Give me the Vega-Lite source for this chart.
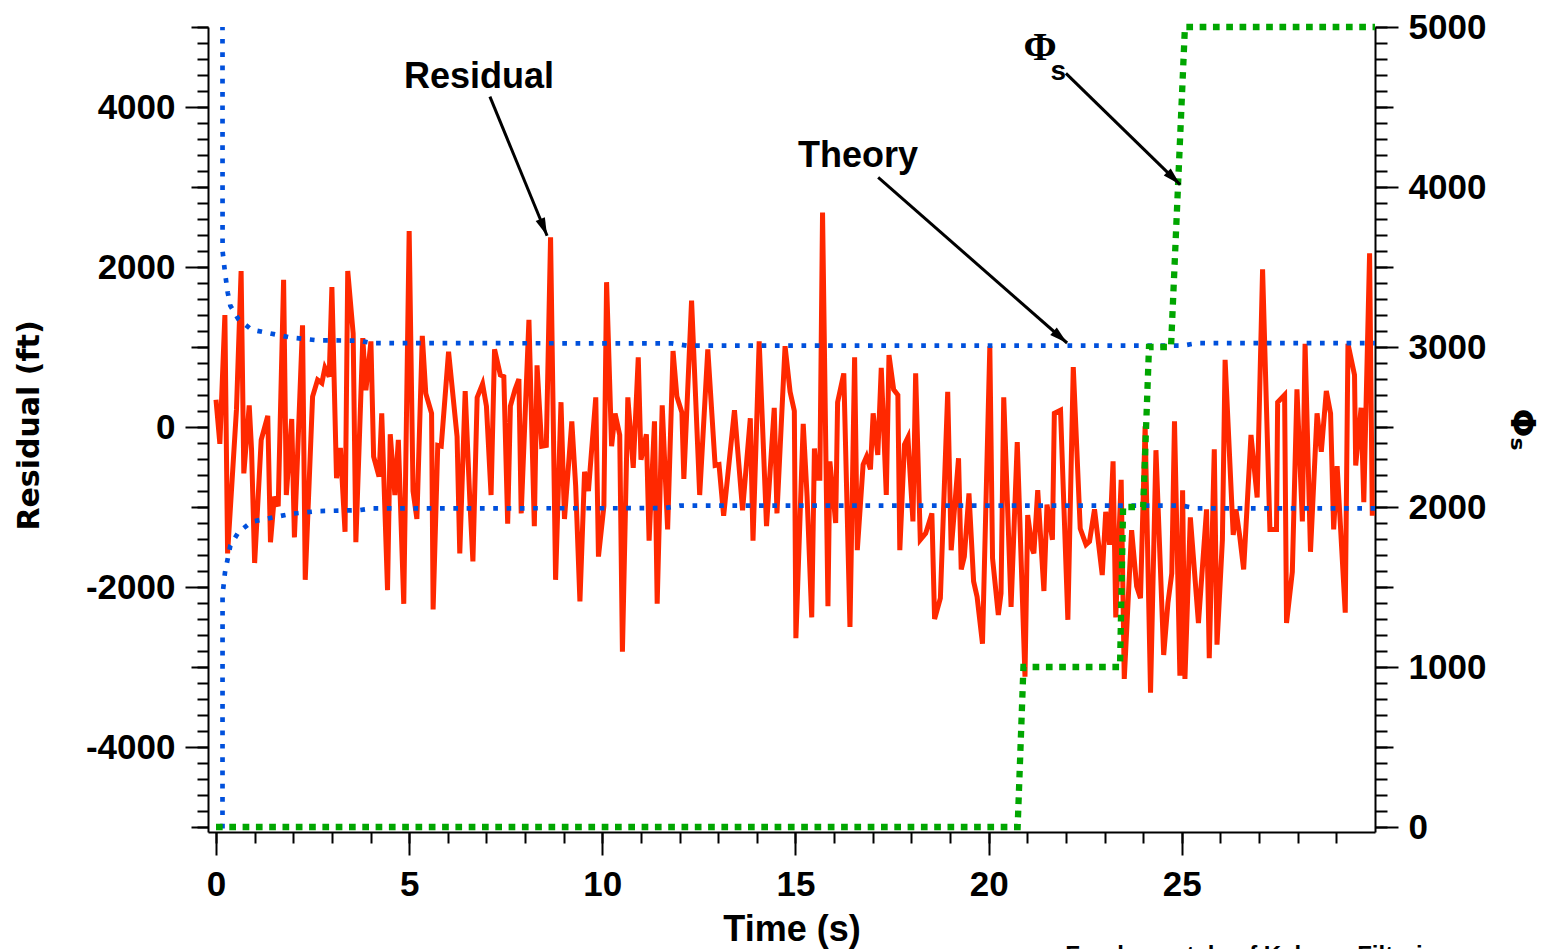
{
  "$schema": "https://vega.github.io/schema/vega-lite/v6.json",
  "width": 1167,
  "height": 805,
  "autosize": {"type": "none"},
  "padding": {"left": 208, "top": 27, "right": 172, "bottom": 117},
  "background": "white",
  "config": {
    "view": {"stroke": null},
    "axis": {
      "grid": false,
      "domainColor": "#000000",
      "domainWidth": 2,
      "tickColor": "#000000",
      "tickWidth": 2,
      "labelColor": "#000000",
      "labelFont": "Liberation Sans",
      "labelFontWeight": "bold",
      "labelFontSize": 35,
      "labelFlush": false,
      "labelOverlap": false,
      "labelPadding": 10,
      "titleColor": "#000000",
      "titleFont": "Liberation Sans",
      "titleFontWeight": "bold"
    }
  },
  "datasets": {
    "residual": [
      {"t": 0.00, "r": 340}, {"t": 0.10, "r": -210}, {"t": 0.23, "r": 1400}, {"t": 0.30, "r": -1580},
      {"t": 0.53, "r": 220}, {"t": 0.65, "r": 1950}, {"t": 0.72, "r": -580}, {"t": 0.86, "r": 270},
      {"t": 0.92, "r": -280}, {"t": 1.00, "r": -1700}, {"t": 1.17, "r": -160}, {"t": 1.34, "r": 140},
      {"t": 1.41, "r": -1440}, {"t": 1.51, "r": -870}, {"t": 1.61, "r": -990}, {"t": 1.75, "r": 1840},
      {"t": 1.82, "r": -850}, {"t": 1.96, "r": 100}, {"t": 2.03, "r": -1380}, {"t": 2.24, "r": 1270},
      {"t": 2.31, "r": -1910}, {"t": 2.50, "r": 380}, {"t": 2.63, "r": 590}, {"t": 2.74, "r": 550},
      {"t": 2.82, "r": 740}, {"t": 2.93, "r": 630}, {"t": 3.00, "r": 1750}, {"t": 3.12, "r": -640},
      {"t": 3.22, "r": -260}, {"t": 3.34, "r": -1310}, {"t": 3.41, "r": 1950}, {"t": 3.55, "r": 1170},
      {"t": 3.62, "r": -1440}, {"t": 3.80, "r": 1110}, {"t": 3.88, "r": 460}, {"t": 4.01, "r": 1070},
      {"t": 4.08, "r": -370}, {"t": 4.22, "r": -620}, {"t": 4.29, "r": 170}, {"t": 4.44, "r": -2040},
      {"t": 4.51, "r": -90}, {"t": 4.63, "r": -850}, {"t": 4.72, "r": -160}, {"t": 4.86, "r": -2210},
      {"t": 5.00, "r": 2450}, {"t": 5.10, "r": -800}, {"t": 5.20, "r": -1150}, {"t": 5.34, "r": 1140},
      {"t": 5.43, "r": 420}, {"t": 5.58, "r": 170}, {"t": 5.62, "r": -2280}, {"t": 5.74, "r": -230},
      {"t": 5.83, "r": -240}, {"t": 6.02, "r": 940}, {"t": 6.12, "r": 460}, {"t": 6.24, "r": -120},
      {"t": 6.31, "r": -1580}, {"t": 6.45, "r": 450}, {"t": 6.57, "r": -910}, {"t": 6.65, "r": -1680},
      {"t": 6.76, "r": 370}, {"t": 6.90, "r": 540}, {"t": 7.00, "r": 260}, {"t": 7.12, "r": -850},
      {"t": 7.21, "r": 970}, {"t": 7.36, "r": 650}, {"t": 7.45, "r": 630}, {"t": 7.55, "r": -1210},
      {"t": 7.62, "r": 260}, {"t": 7.74, "r": 470}, {"t": 7.84, "r": 600}, {"t": 7.90, "r": -1080},
      {"t": 8.10, "r": 1340}, {"t": 8.24, "r": -1240}, {"t": 8.31, "r": 770}, {"t": 8.43, "r": -240},
      {"t": 8.55, "r": -230}, {"t": 8.66, "r": 2370}, {"t": 8.79, "r": -1910}, {"t": 8.93, "r": 310},
      {"t": 9.02, "r": -1150}, {"t": 9.21, "r": 70}, {"t": 9.31, "r": -740}, {"t": 9.42, "r": -2180},
      {"t": 9.54, "r": -560}, {"t": 9.64, "r": -800}, {"t": 9.83, "r": 370}, {"t": 9.90, "r": -1620},
      {"t": 10.04, "r": -990}, {"t": 10.11, "r": 1810}, {"t": 10.24, "r": -240}, {"t": 10.33, "r": 170},
      {"t": 10.45, "r": -100}, {"t": 10.52, "r": -2810}, {"t": 10.66, "r": 370}, {"t": 10.80, "r": -510},
      {"t": 10.93, "r": 870}, {"t": 11.00, "r": -410}, {"t": 11.14, "r": -90}, {"t": 11.21, "r": -1420},
      {"t": 11.35, "r": 70}, {"t": 11.42, "r": -2210}, {"t": 11.55, "r": 270}, {"t": 11.69, "r": -1280},
      {"t": 11.83, "r": 950}, {"t": 11.93, "r": 380}, {"t": 12.06, "r": 180}, {"t": 12.11, "r": -650},
      {"t": 12.31, "r": 1580}, {"t": 12.52, "r": -850}, {"t": 12.73, "r": 970}, {"t": 12.92, "r": -480},
      {"t": 13.02, "r": -470}, {"t": 13.14, "r": -1110}, {"t": 13.42, "r": 210}, {"t": 13.63, "r": -1040},
      {"t": 13.83, "r": 110}, {"t": 13.90, "r": -1420}, {"t": 14.06, "r": 1070}, {"t": 14.25, "r": -1240},
      {"t": 14.45, "r": 240}, {"t": 14.52, "r": -1080}, {"t": 14.73, "r": 1010}, {"t": 14.86, "r": 440},
      {"t": 14.97, "r": 200}, {"t": 15.01, "r": -2640}, {"t": 15.20, "r": 40}, {"t": 15.30, "r": -870},
      {"t": 15.42, "r": -2380}, {"t": 15.49, "r": -270}, {"t": 15.56, "r": -640}, {"t": 15.63, "r": -640},
      {"t": 15.70, "r": 2680}, {"t": 15.84, "r": -2240}, {"t": 15.89, "r": -430}, {"t": 16.04, "r": -1200},
      {"t": 16.09, "r": 310}, {"t": 16.25, "r": 670}, {"t": 16.41, "r": -2500}, {"t": 16.53, "r": 870},
      {"t": 16.60, "r": -1540}, {"t": 16.75, "r": -470}, {"t": 16.84, "r": -370}, {"t": 16.94, "r": -530},
      {"t": 17.01, "r": 170}, {"t": 17.13, "r": -350}, {"t": 17.22, "r": 740}, {"t": 17.35, "r": -850},
      {"t": 17.42, "r": 900}, {"t": 17.54, "r": 470}, {"t": 17.65, "r": 400}, {"t": 17.70, "r": -1540},
      {"t": 17.82, "r": -220}, {"t": 17.91, "r": -130}, {"t": 18.04, "r": -1180}, {"t": 18.11, "r": 670},
      {"t": 18.23, "r": -1410}, {"t": 18.37, "r": -1330}, {"t": 18.53, "r": -1080}, {"t": 18.60, "r": -2400},
      {"t": 18.75, "r": -2140}, {"t": 18.94, "r": 440}, {"t": 19.03, "r": -1540}, {"t": 19.22, "r": -390},
      {"t": 19.29, "r": -1780}, {"t": 19.37, "r": -1620}, {"t": 19.49, "r": -830}, {"t": 19.61, "r": -1930},
      {"t": 19.70, "r": -2120}, {"t": 19.84, "r": -2710}, {"t": 20.03, "r": 1010}, {"t": 20.10, "r": -1640},
      {"t": 20.25, "r": -2350}, {"t": 20.32, "r": -2080}, {"t": 20.39, "r": 370}, {"t": 20.58, "r": -2250},
      {"t": 20.74, "r": -190}, {"t": 20.94, "r": -3120}, {"t": 21.01, "r": -1100}, {"t": 21.13, "r": -1530},
      {"t": 21.17, "r": -1580}, {"t": 21.27, "r": -790}, {"t": 21.43, "r": -2050}, {"t": 21.51, "r": -970},
      {"t": 21.65, "r": -1410}, {"t": 21.70, "r": 170}, {"t": 21.86, "r": 210}, {"t": 22.05, "r": -2410},
      {"t": 22.19, "r": 750}, {"t": 22.37, "r": -1270}, {"t": 22.52, "r": -1470}, {"t": 22.61, "r": -1430},
      {"t": 22.74, "r": -1030}, {"t": 22.94, "r": -1850}, {"t": 23.03, "r": -1060}, {"t": 23.13, "r": -1470},
      {"t": 23.22, "r": -430}, {"t": 23.29, "r": -2380}, {"t": 23.43, "r": -660}, {"t": 23.51, "r": -3150},
      {"t": 23.70, "r": -1290}, {"t": 23.83, "r": -1990}, {"t": 23.93, "r": -2140}, {"t": 24.05, "r": 10},
      {"t": 24.19, "r": -3320}, {"t": 24.33, "r": -290}, {"t": 24.53, "r": -2850}, {"t": 24.64, "r": -2200},
      {"t": 24.74, "r": -1830}, {"t": 24.81, "r": 70}, {"t": 24.95, "r": -3110}, {"t": 25.02, "r": -790},
      {"t": 25.08, "r": -3150}, {"t": 25.22, "r": -1130}, {"t": 25.43, "r": -2450}, {"t": 25.64, "r": -1030},
      {"t": 25.71, "r": -2890}, {"t": 25.84, "r": -280}, {"t": 25.91, "r": -2720}, {"t": 26.05, "r": -1410},
      {"t": 26.12, "r": 840}, {"t": 26.33, "r": -1350}, {"t": 26.40, "r": -1030}, {"t": 26.50, "r": -1370},
      {"t": 26.60, "r": -1780}, {"t": 26.79, "r": -100}, {"t": 26.95, "r": -880}, {"t": 27.09, "r": 1970},
      {"t": 27.28, "r": -1280}, {"t": 27.45, "r": -1280}, {"t": 27.48, "r": 310}, {"t": 27.66, "r": 400},
      {"t": 27.71, "r": -2450}, {"t": 27.86, "r": -1810}, {"t": 27.98, "r": 470}, {"t": 28.12, "r": -1180},
      {"t": 28.19, "r": 1040}, {"t": 28.33, "r": -1560}, {"t": 28.50, "r": 170}, {"t": 28.61, "r": -310},
      {"t": 28.74, "r": 450}, {"t": 28.85, "r": 170}, {"t": 28.93, "r": -1280}, {"t": 29.02, "r": -490},
      {"t": 29.23, "r": -2320}, {"t": 29.30, "r": 1040}, {"t": 29.47, "r": 650}, {"t": 29.50, "r": -480},
      {"t": 29.64, "r": 240}, {"t": 29.71, "r": -940}, {"t": 29.86, "r": 2170}, {"t": 29.93, "r": -1110}
    ],
    "theory": [
      {"side": "upper", "t": 0.164, "v": 12000}, {"side": "upper", "t": 0.17, "v": 2200},
      {"side": "upper", "t": 0.233, "v": 1930}, {"side": "upper", "t": 0.302, "v": 1683},
      {"side": "upper", "t": 0.371, "v": 1516}, {"side": "upper", "t": 0.578, "v": 1349},
      {"side": "upper", "t": 0.923, "v": 1216}, {"side": "upper", "t": 1.268, "v": 1183},
      {"side": "upper", "t": 1.613, "v": 1149}, {"side": "upper", "t": 1.958, "v": 1116},
      {"side": "upper", "t": 2.648, "v": 1083}, {"side": "upper", "t": 3.7, "v": 1080},
      {"side": "upper", "t": 4.03, "v": 1049}, {"side": "upper", "t": 11.8, "v": 1045},
      {"side": "upper", "t": 12.2, "v": 1016}, {"side": "upper", "t": 25.0, "v": 1016},
      {"side": "upper", "t": 25.4, "v": 1049}, {"side": "upper", "t": 30, "v": 1049},
      {"side": "lower", "t": 0.164, "v": -12000}, {"side": "lower", "t": 0.17, "v": -2100},
      {"side": "lower", "t": 0.233, "v": -1817}, {"side": "lower", "t": 0.302, "v": -1650},
      {"side": "lower", "t": 0.371, "v": -1484}, {"side": "lower", "t": 0.578, "v": -1317},
      {"side": "lower", "t": 0.923, "v": -1184}, {"side": "lower", "t": 1.268, "v": -1151},
      {"side": "lower", "t": 1.613, "v": -1117}, {"side": "lower", "t": 1.958, "v": -1084},
      {"side": "lower", "t": 2.648, "v": -1051}, {"side": "lower", "t": 3.7, "v": -1040},
      {"side": "lower", "t": 4.03, "v": -1017}, {"side": "lower", "t": 11.6, "v": -1015},
      {"side": "lower", "t": 12.0, "v": -984}, {"side": "lower", "t": 25.0, "v": -984},
      {"side": "lower", "t": 25.4, "v": -1017}, {"side": "lower", "t": 30, "v": -1017}
    ],
    "phi": [
      {"t": 0, "p": 0}, {"t": 20.75, "p": 0}, {"t": 20.9, "p": 1000}, {"t": 23.4, "p": 1000},
      {"t": 23.48, "p": 2000}, {"t": 24.0, "p": 2000}, {"t": 24.15, "p": 3000}, {"t": 24.72, "p": 3000},
      {"t": 25.08, "p": 5000}, {"t": 30, "p": 5000}
    ],
    "arrows": [
      {"name": "residual", "x": 7.09, "y": 4130, "x2": 8.57, "y2": 2390},
      {"name": "theory", "x": 17.14, "y": 3120, "x2": 22.03, "y2": 1050},
      {"name": "phi", "x": 22.0, "y": 4420, "x2": 24.955, "y2": 3030}
    ],
    "labels": [
      {"kind": "ann", "label": "Residual", "x": 6.81, "y": 4240},
      {"kind": "ann", "label": "Theory", "x": 16.62, "y": 3255},
      {"kind": "phi", "label": "Φ", "x": 21.33, "y": 4590},
      {"kind": "sub", "label": "s", "x": 21.8, "y": 4340},
      {"kind": "foot", "label": "Fundamentals of Kalman Filtering", "x": 21.98, "y": -6700}
    ]
  },
  "resolve": {"scale": {"y": "independent"}, "axis": {"x": "independent", "y": "independent"}},
  "layer": [
    {
      "data": {"name": "residual"},
      "mark": {"type": "line", "color": "#ff2800", "strokeWidth": 5, "strokeJoin": "miter"},
      "encoding": {
        "x": {"field": "t", "type": "quantitative", "scale": {"domain": [-0.207, 30], "nice": false, "zero": false},
          "axis": {"orient": "bottom", "values": [0, 5, 10, 15, 20, 25], "tickSize": 23, "labelPadding": 12, "labelExpr": "'' + datum.value",
            "title": "Time (s)", "titleFontSize": 36, "titleY": 108, "titleBaseline": "alphabetic"}},
        "y": {"field": "r", "type": "quantitative", "scale": {"domain": [-5062.5, 5000], "nice": false, "zero": false},
          "axis": {"orient": "left", "values": [-4000, -2000, 0, 2000, 4000], "tickSize": 23, "labelExpr": "'' + datum.value",
            "title": "Residual (ft)", "titleFont": "DejaVu Sans", "titleFontSize": 30, "titleX": -179, "titleY": 398, "titleAngle": -90, "titleBaseline": "middle"}}
      }
    },
    {
      "data": {"name": "theory"},
      "mark": {"type": "line", "color": "#0050dc", "strokeWidth": 4.7, "strokeDash": [4.7, 8.6], "strokeCap": "butt", "clip": true},
      "encoding": {
        "x": {"field": "t", "type": "quantitative", "scale": {"domain": [-0.207, 30], "nice": false, "zero": false},
          "axis": {"orient": "bottom", "values": [0,1,2,3,4,5,6,7,8,9,10,11,12,13,14,15,16,17,18,19,20,21,22,23,24,25,26,27,28,29], "tickSize": 11, "labels": false, "domain": false, "title": null}},
        "y": {"field": "v", "type": "quantitative", "scale": {"domain": [-5062.5, 5000], "nice": false, "zero": false},
          "axis": {"orient": "left", "values": [-5000, -3000, -1000, 1000, 3000, 5000], "tickSize": 17, "labels": false, "domain": false, "title": null}},
        "detail": {"field": "side", "type": "nominal"}
      }
    },
    {
      "data": {"name": "phi"},
      "mark": {"type": "line", "color": "#00a600", "strokeWidth": 6.3, "strokeDash": [6.7, 6.6], "strokeCap": "butt"},
      "encoding": {
        "x": {"field": "t", "type": "quantitative", "scale": {"domain": [-0.207, 30], "nice": false, "zero": false}, "axis": null},
        "y": {"field": "p", "type": "quantitative", "scale": {"domain": [-31.25, 5000], "nice": false, "zero": false},
          "axis": {"orient": "right", "values": [0, 1000, 2000, 3000, 4000, 5000], "tickSize": 23, "labelExpr": "'' + datum.value",
            "title": "Φₛ", "titleFont": "DejaVu Sans", "titleFontSize": 34, "titleX": 145, "titleY": 402, "titleAngle": 90, "titleBaseline": "middle"}}
      }
    },
    {
      "data": {"name": "phi"},
      "mark": {"type": "line", "strokeOpacity": 0},
      "encoding": {
        "x": {"field": "t", "type": "quantitative", "scale": {"domain": [-0.207, 30], "nice": false, "zero": false}, "axis": null},
        "y": {"field": "p", "type": "quantitative", "scale": {"domain": [-31.25, 5000], "nice": false, "zero": false},
          "axis": {"orient": "right", "values": [500, 1500, 2500, 3500, 4500], "tickSize": 18, "labels": false, "domain": false, "title": null}}
      }
    },
    {
      "data": {"name": "phi"},
      "mark": {"type": "line", "strokeOpacity": 0},
      "encoding": {
        "x": {"field": "t", "type": "quantitative", "scale": {"domain": [-0.207, 30], "nice": false, "zero": false}, "axis": null},
        "y": {"field": "p", "type": "quantitative", "scale": {"domain": [-31.25, 5000], "nice": false, "zero": false},
          "axis": {"orient": "right", "values": [0,100,200,300,400,500,600,700,800,900,1000,1100,1200,1300,1400,1500,1600,1700,1800,1900,2000,2100,2200,2300,2400,2500,2600,2700,2800,2900,3000,3100,3200,3300,3400,3500,3600,3700,3800,3900,4000,4100,4200,4300,4400,4500,4600,4700,4800,4900,5000], "tickSize": 12, "labels": false, "domain": false, "title": null}}
      }
    },
    {
      "data": {"name": "arrows"},
      "mark": {"type": "rule", "color": "#000000", "strokeWidth": 3},
      "encoding": {
        "x": {"field": "x", "type": "quantitative", "scale": {"domain": [-0.207, 30], "nice": false, "zero": false}, "axis": null},
        "x2": {"field": "x2"},
        "y": {"field": "y", "type": "quantitative", "scale": {"domain": [-5062.5, 5000], "nice": false, "zero": false},
          "axis": {"orient": "left", "values": [-5000,-4800,-4600,-4400,-4200,-4000,-3800,-3600,-3400,-3200,-3000,-2800,-2600,-2400,-2200,-2000,-1800,-1600,-1400,-1200,-1000,-800,-600,-400,-200,0,200,400,600,800,1000,1200,1400,1600,1800,2000,2200,2400,2600,2800,3000,3200,3400,3600,3800,4000,4200,4400,4600,4800,5000], "tickSize": 11, "labels": false, "domain": false, "title": null}},
        "y2": {"field": "y2"}
      }
    },
    {
      "data": {"name": "arrows"},
      "transform": [{"filter": "datum.name === 'residual'"}],
      "mark": {"type": "point", "shape": "M0,0L0.55,2L-0.55,2Z", "size": 324, "angle": 157.7, "filled": true, "opacity": 1, "color": "#000000"},
      "encoding": {
        "x": {"field": "x2", "type": "quantitative", "scale": {"domain": [-0.207, 30], "nice": false, "zero": false}, "axis": null},
        "y": {"field": "y2", "type": "quantitative", "scale": {"domain": [-5062.5, 5000], "nice": false, "zero": false}, "axis": null}
      }
    },
    {
      "data": {"name": "arrows"},
      "transform": [{"filter": "datum.name === 'theory'"}],
      "mark": {"type": "point", "shape": "M0,0L0.55,2L-0.55,2Z", "size": 324, "angle": 131.1, "filled": true, "opacity": 1, "color": "#000000"},
      "encoding": {
        "x": {"field": "x2", "type": "quantitative", "scale": {"domain": [-0.207, 30], "nice": false, "zero": false}, "axis": null},
        "y": {"field": "y2", "type": "quantitative", "scale": {"domain": [-5062.5, 5000], "nice": false, "zero": false}, "axis": null}
      }
    },
    {
      "data": {"name": "arrows"},
      "transform": [{"filter": "datum.name === 'phi'"}],
      "mark": {"type": "point", "shape": "M0,0L0.55,2L-0.55,2Z", "size": 324, "angle": 134.5, "filled": true, "opacity": 1, "color": "#000000"},
      "encoding": {
        "x": {"field": "x2", "type": "quantitative", "scale": {"domain": [-0.207, 30], "nice": false, "zero": false}, "axis": null},
        "y": {"field": "y2", "type": "quantitative", "scale": {"domain": [-5062.5, 5000], "nice": false, "zero": false}, "axis": null}
      }
    },
    {
      "data": {"name": "labels"},
      "transform": [{"filter": "datum.kind === 'ann'"}],
      "mark": {"type": "text", "font": "Liberation Sans", "fontWeight": "bold", "fontSize": 36, "align": "center", "baseline": "alphabetic", "color": "#000000"},
      "encoding": {
        "x": {"field": "x", "type": "quantitative", "scale": {"domain": [-0.207, 30], "nice": false, "zero": false}, "axis": null},
        "y": {"field": "y", "type": "quantitative", "scale": {"domain": [-5062.5, 5000], "nice": false, "zero": false}, "axis": null},
        "text": {"field": "label"}
      }
    },
    {
      "data": {"name": "labels"},
      "transform": [{"filter": "datum.kind === 'phi'"}],
      "mark": {"type": "text", "font": "Liberation Serif", "fontWeight": "bold", "fontSize": 40, "align": "center", "baseline": "alphabetic", "color": "#000000"},
      "encoding": {
        "x": {"field": "x", "type": "quantitative", "scale": {"domain": [-0.207, 30], "nice": false, "zero": false}, "axis": null},
        "y": {"field": "y", "type": "quantitative", "scale": {"domain": [-5062.5, 5000], "nice": false, "zero": false}, "axis": null},
        "text": {"field": "label"}
      }
    },
    {
      "data": {"name": "labels"},
      "transform": [{"filter": "datum.kind === 'sub'"}],
      "mark": {"type": "text", "font": "Liberation Sans", "fontWeight": "bold", "fontSize": 28, "align": "center", "baseline": "alphabetic", "color": "#000000"},
      "encoding": {
        "x": {"field": "x", "type": "quantitative", "scale": {"domain": [-0.207, 30], "nice": false, "zero": false}, "axis": null},
        "y": {"field": "y", "type": "quantitative", "scale": {"domain": [-5062.5, 5000], "nice": false, "zero": false}, "axis": null},
        "text": {"field": "label"}
      }
    },
    {
      "data": {"name": "labels"},
      "transform": [{"filter": "datum.kind === 'foot'"}],
      "mark": {"type": "text", "font": "Liberation Sans", "fontWeight": "bold", "fontSize": 24, "align": "left", "baseline": "alphabetic", "color": "#000000"},
      "encoding": {
        "x": {"field": "x", "type": "quantitative", "scale": {"domain": [-0.207, 30], "nice": false, "zero": false}, "axis": null},
        "y": {"field": "y", "type": "quantitative", "scale": {"domain": [-5062.5, 5000], "nice": false, "zero": false}, "axis": null},
        "text": {"field": "label"}
      }
    }
  ]
}
